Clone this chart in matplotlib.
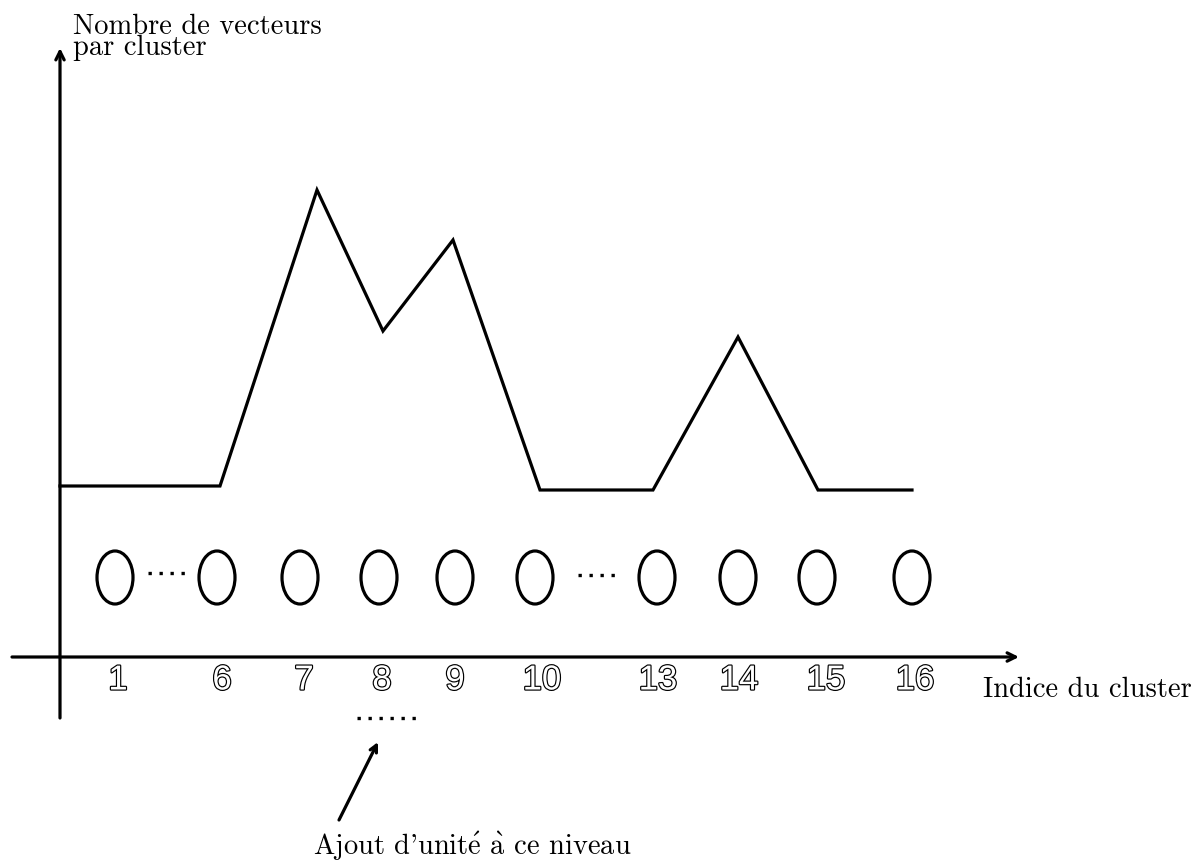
import numpy as np
import matplotlib
matplotlib.use('Agg')
from matplotlib import pyplot as plt
from matplotlib.patches import Ellipse
import matplotlib.patheffects as pe

plt.rcParams['mathtext.fontset'] = 'cm'

#%% Data

# cluster indices shown under the axis and their positions along it
cluster_labels = ['1', '6', '7', '8', '9', '10', '13', '14', '15', '16']
label_pos      = [58, 162, 244, 322, 395, 482, 598, 679, 766, 855]
unit_pos       = [55, 157, 240, 319, 395, 475, 597, 678, 757, 852]

# number of vectors per cluster (curve vertices)
curve_x = [0, 160, 257, 323, 393, 480, 593, 678, 758, 852]
curve_y = [17.1, 17.1, 46.7, 32.6, 41.7, 16.7, 16.7, 32.0, 16.7, 16.7]

#%% Figure

serif = ['cmr10', 'DejaVu Serif']
lw = 2.3
fs = 20.5

fig = plt.figure(figsize=(11.96, 8.66), dpi=100)
ax = fig.add_axes([0, 0, 1, 1])
ax.set_xlim(-60, 1136)
ax.set_ylim(-20.9, 65.7)
ax.axis('off')

# axes with arrows
ax.annotate('', xy=(959, 0), xytext=(-48, 0),
            arrowprops=dict(arrowstyle='->,head_length=0.6,head_width=0.3', lw=lw, color='k',
                            shrinkA=0, shrinkB=0))
ax.annotate('', xy=(0, 60.9), xytext=(0, -6.1),
            arrowprops=dict(arrowstyle='->,head_length=0.6,head_width=0.3', lw=lw, color='k',
                            shrinkA=0, shrinkB=0))

# curve
ax.plot(curve_x, curve_y, color='k', lw=lw, solid_joinstyle='miter')

# units (ellipses)
for x in unit_pos:
    ax.add_patch(Ellipse((x, 7.95), 36, 5.3, fill=False, edgecolor='k', lw=lw))

# dots between units
dot = (0, (1.0, 2.3))
ax.plot([88, 128], [8.4, 8.4], color='k', lw=2.4, linestyle=dot)
ax.plot([518, 558], [8.2, 8.2], color='k', lw=2.4, linestyle=dot)
ax.plot([297, 358], [-6.1, -6.1], color='k', lw=2.4, linestyle=dot)

# tick labels, outlined
for lab, x in zip(cluster_labels, label_pos):
    ax.text(x, -2.3, lab, ha='center', va='center', fontsize=25,
            family=['Liberation Sans Narrow', 'Liberation Sans'], color='white',
            path_effects=[pe.withStroke(linewidth=1.7, foreground='k')])

# annotation arrow
ax.annotate('', xy=(318, -8.5), xytext=(279, -16.3),
            arrowprops=dict(arrowstyle='->,head_length=0.5,head_width=0.25', lw=lw, color='k',
                            shrinkA=0, shrinkB=0))

# texts
ax.text(13, 62.3, 'Nombre de vecteurs', fontsize=fs, family=serif, va='baseline')
ax.text(13, 60.2, 'par cluster', fontsize=fs, family=serif, va='baseline')
ax.text(923, -4.0, 'Indice du cluster', fontsize=fs, family=serif, va='baseline')
ax.text(253, -19.8, "Ajout d'unit$\\acute{\\rm e}$ $\\grave{\\rm a}$ ce niveau",
        fontsize=fs, family=serif, va='baseline')

fig.savefig('out.png', dpi=100)
